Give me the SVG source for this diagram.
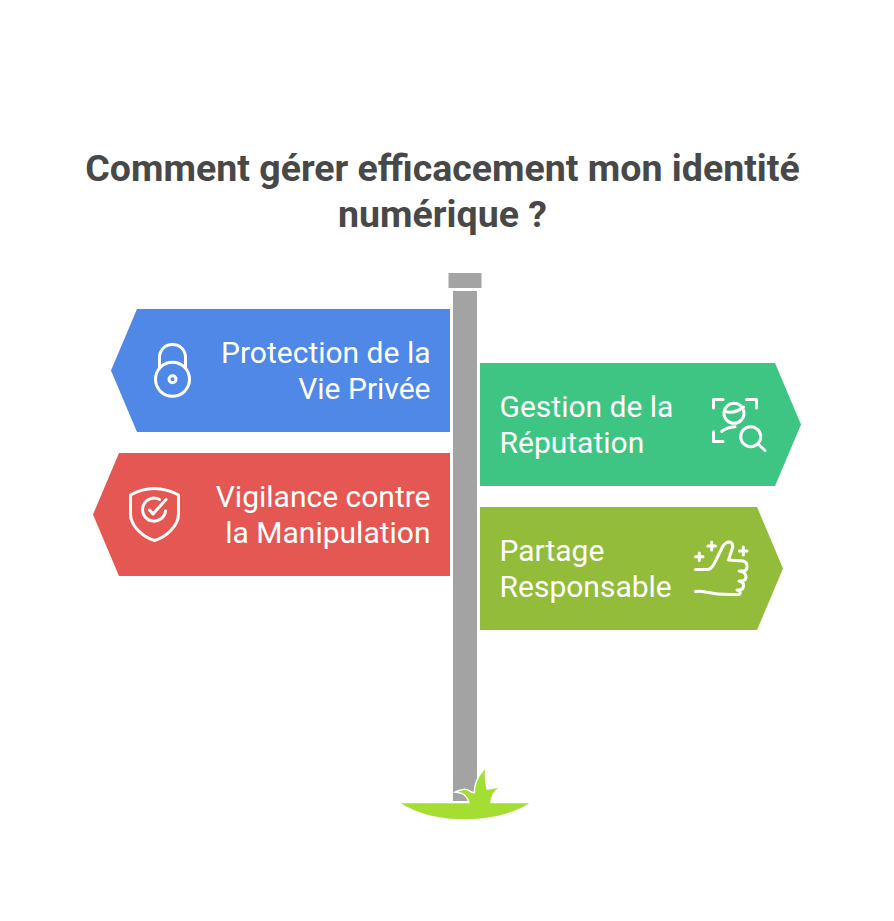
<svg xmlns="http://www.w3.org/2000/svg" width="894" height="921" viewBox="0 0 894 921">
<style>
text{font-family:Roboto,"Liberation Sans",sans-serif}
.title{font-size:37.5px;font-weight:700;fill:#484848;text-anchor:middle}
.lbl{font-size:30px;fill:#fff}
.end{text-anchor:end}
.ic{fill:none;stroke:#fff;stroke-width:3;stroke-linecap:round;stroke-linejoin:round}
.post{fill:#a3a3a3}
</style>
<rect width="894" height="921" fill="#fff"/>
<g id="title">
<text class="title" x="442.5" y="180.5">Comment gérer efficacement mon identité</text>
<text class="title" x="442.5" y="226.500">numérique ?</text>
</g>
<g id="signpost">
<rect class="post" x="448.500" y="273" width="33" height="15"/>
<rect class="post" x="453" y="291" width="24" height="510"/>
<path id="grass-halo" d="M458 791.700Q466 788 470 792Q473 794 475 793Q475 780 485 769.300Q484 782 486.700 790Q492 789 498.300 787.700Q491 792 490 803H470Q468 793 458 791.700Z" fill="#a5de33" stroke="#fff" stroke-width="3"/>
<path id="grass" d="M400.700 803.300H529.300C510 815 488 819.300 465 819.300C442 819.300 420 815 400.700 803.300Z M458 791.700Q466 788 470 792Q473 794 475 793Q475 780 485 769.300Q484 782 486.700 790Q492 789 498.300 787.700Q491 792 490 804H470Q468 793 458 791.700Z" fill="#a5de33"/>
</g>
<g id="node-protection">
<path d="M450 309H137L111 370.500L137 432H450Z" fill="#4f88e6"/>
<text class="lbl end" x="430.500" y="363">Protection de la</text>
<text class="lbl end" x="430.500" y="399">Vie Privée</text>
<g class="ic">
<path d="M159.500 367V357.500C159.500 350 165 344.500 172.500 344.500C180 344.500 185.500 350 185.500 357.500V367"/>
<circle cx="172.500" cy="379.300" r="17"/>
<circle cx="172.500" cy="379.300" r="3.500"/>
</g>
</g>
<g id="node-vigilance">
<path d="M450 453H119L93 514.500L119 576H450Z" fill="#e55753"/>
<text class="lbl end" x="430.500" y="507">Vigilance contre</text>
<text class="lbl end" x="430.500" y="543">la Manipulation</text>
<g class="ic">
<path d="M130.500 495Q154 482 178.500 495V514C178.500 526 166 537 154.500 540.500C143 537 130.500 526 130.500 514Z"/>
<path d="M159.500 499.500A11.500 11.500 0 1 0 165.500 511"/>
<path d="M149.500 510L153 514L166 499.500"/>
</g>
</g>
<g id="node-gestion">
<path d="M480 363H775L801 424.500L775 486H480Z" fill="#3fc583"/>
<text class="lbl" x="499.500" y="417">Gestion de la</text>
<text class="lbl" x="499.500" y="453">Réputation</text>
<g class="ic">
<path d="M713.500 408V399.500H723M746.500 399.500H756.500V408M713.500 431.700V441.500H723"/>
<circle cx="734" cy="413.300" r="10"/>
<path d="M725 411.500Q735 414 743.500 407M721.700 431.500Q727 427 735 426.700"/>
<circle cx="750.700" cy="436.700" r="10"/>
<path d="M758 444L765 450.500"/>
</g>
</g>
<g id="node-partage">
<path d="M480 507H757L783 568.500L757 630H480Z" fill="#93bc3a"/>
<text class="lbl" x="499.500" y="561">Partage</text>
<text class="lbl" x="499.500" y="597">Responsable</text>
<g class="ic">
<path d="M695.500 556.700H703M699.300 553V560.500M707.800 546H715.500M711.700 542V550M739.500 551H747M743.300 547V555"/>
<path d="M695.500 569.500H707Q711 569.500 714 564L723 546Q726 541.500 730 542Q733.500 543.500 732.500 548L728.500 560L743 561Q747.500 562 747 567Q746.500 571 743 571H739Q746 572 746 577Q745.500 581 741 581H739Q744 582 743.500 586Q743 590 739 590H737Q741 591 740 594Q739 595 735 594.500Q720 595 705 592Q700 591 695.500 591.500"/>
</g>
</g>
</svg>
